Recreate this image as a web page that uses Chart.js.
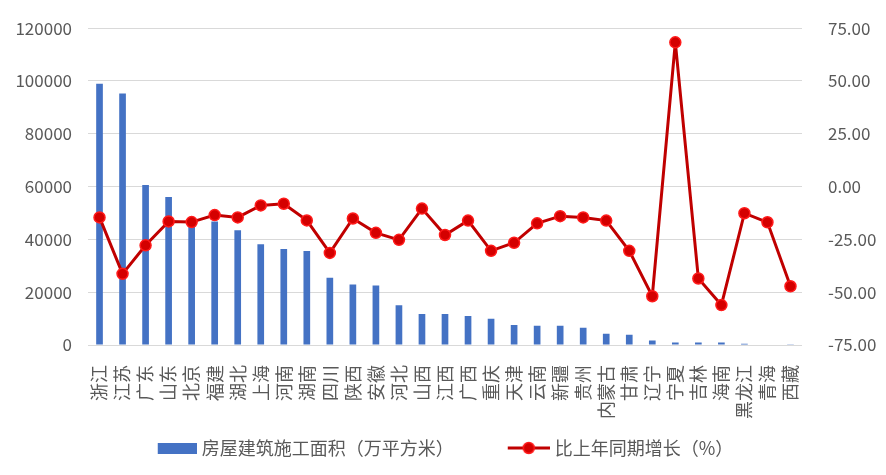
<!DOCTYPE html>
<html>
<head>
<meta charset="utf-8">
<script src="https://cdn.jsdelivr.net/npm/chart.js@4.4.1/dist/chart.umd.min.js"></script>
<style>
  html, body { margin: 0; padding: 0; background: #fff; }
  #wrap { width: 886px; height: 475px; }
</style>
</head>
<body>
<div id="wrap"><canvas id="chart"></canvas></div>
<script>
/* data */
const provinces = ['浙江', '江苏', '广东', '山东', '北京', '福建', '湖北', '上海', '河南', '湖南',
  '四川', '陕西', '安徽', '河北', '山西', '江西', '广西', '重庆', '天津', '云南',
  '新疆', '贵州', '内蒙古', '甘肃', '辽宁', '宁夏', '吉林', '海南', '黑龙江', '青海', '西藏'];
const area = [99000, 95300, 60600, 56100, 47200, 46800, 43500, 38200, 36400, 35600,
  25500, 22900, 22500, 15100, 11700, 11700, 11000, 9900, 7600, 7300,
  7300, 6500, 4300, 3900, 1700, 900, 900, 900, 500, 200, 100];
const growth = [-14.6, -41.3, -27.8, -16.5, -16.8, -13.5, -14.6, -8.9, -8.1, -16.0,
  -31.4, -15.1, -21.9, -25.2, -10.4, -22.9, -16.1, -30.4, -26.6, -17.4,
  -14.0, -14.6, -16.1, -30.4, -51.9, 68.3, -43.5, -56.1, -12.6, -16.9, -47.2];
const areaTicks = { min: 0, max: 120000, step: 20000 };
const growthTicks = { min: -75, max: 75, step: 25 };
const seriesNames = ['房屋建筑施工面积（万平方米）', '比上年同期增长（%）'];

const FONT = "'Noto Sans CJK SC', 'Noto Sans', sans-serif";
const TEXT = '#595959';
const BLUE = '#4472c4';
const RED = '#c00000';

/* legend icons: blank lead on the left gives the gap between the two entries */
const ICON_BOX = 78;
function makeIcon(draw) {
  const c = document.createElement('canvas');
  c.width = ICON_BOX + 8; c.height = 14;
  draw(c.getContext('2d'));
  return c;
}
const barIcon = makeIcon(g => { g.fillStyle = BLUE; g.fillRect(47, 2, 39, 11); });
const lineIcon = makeIcon(g => {
  g.strokeStyle = RED; g.lineWidth = 3;
  g.beginPath(); g.moveTo(44, 7); g.lineTo(86, 7); g.stroke();
  g.fillStyle = '#d40000'; g.strokeStyle = '#ff1a1a'; g.lineWidth = 1.5;
  g.beginPath(); g.arc(65, 7, 5.5, 0, Math.PI * 2); g.fill(); g.stroke();
});
const legendIcons = [barIcon, lineIcon];

new Chart(document.getElementById('chart'), {
  data: {
    labels: provinces,
    datasets: [{
      type: 'bar',
      label: seriesNames[0],
      data: area,
      yAxisID: 'y',
      backgroundColor: BLUE,
      categoryPercentage: 1,
      barPercentage: 0.29,
      order: 1
    }, {
      type: 'line',
      label: seriesNames[1],
      data: growth,
      yAxisID: 'y1',
      borderColor: RED,
      borderWidth: 3,
      tension: 0,
      pointRadius: 5.5,
      pointBackgroundColor: '#d40000',
      pointBorderColor: '#ff1a1a',
      pointBorderWidth: 1.5,
      order: 0
    }]
  },
  options: {
    responsive: true,
    maintainAspectRatio: false,
    animation: false,
    layout: { padding: { top: 23, left: -38, right: 0, bottom: 8 } },
    plugins: {
      tooltip: { enabled: false },
      legend: {
        position: 'bottom',
        labels: {
          usePointStyle: true,
          pointStyleWidth: ICON_BOX,
          boxHeight: 14,
          padding: 14,
          color: TEXT,
          font: { family: FONT, size: 18 },
          generateLabels: chart => Chart.defaults.plugins.legend.labels.generateLabels(chart)
            .sort((a, b) => a.datasetIndex - b.datasetIndex)
            .map(item => Object.assign(item, { pointStyle: legendIcons[item.datasetIndex] }))
        }
      }
    },
    scales: {
      x: {
        offset: true,
        grid: { display: false },
        border: { display: false },
        afterFit: s => { s.height = 80; },
        ticks: {
          autoSkip: false,
          minRotation: 90,
          maxRotation: 90,
          padding: 12,
          color: TEXT,
          font: { family: FONT, size: 18 }
        }
      },
      y: {
        position: 'left',
        min: areaTicks.min,
        max: areaTicks.max,
        afterFit: s => { s.width = 126; },
        grid: { color: '#d9d9d9', lineWidth: 1, drawTicks: false },
        border: { display: false },
        ticks: {
          stepSize: areaTicks.step,
          padding: 16,
          color: TEXT,
          font: { family: FONT, size: 17 },
          callback: v => String(v)
        }
      },
      y1: {
        position: 'right',
        min: growthTicks.min,
        max: growthTicks.max,
        afterFit: s => { s.width = 84; },
        grid: { display: false },
        border: { display: false },
        ticks: {
          stepSize: growthTicks.step,
          padding: 18,
          color: TEXT,
          font: { family: FONT, size: 17 },
          callback: v => v.toFixed(2)
        }
      }
    }
  }
});
</script>
</body>
</html>
